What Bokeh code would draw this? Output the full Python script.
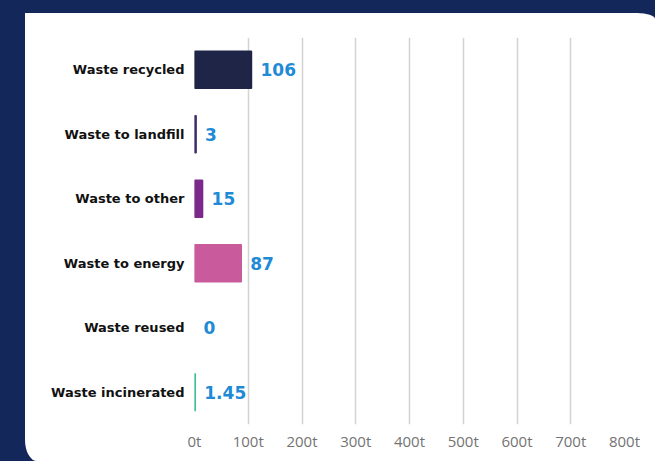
from bokeh.plotting import figure
from bokeh.models import ColumnDataSource, FactorRange, Range1d, FixedTicker, GlobalInlineStyleSheet
from bokeh.core.properties import value
from bokeh.embed import file_html
from bokeh.resources import INLINE

categories = ["Waste recycled", "Waste to landfill", "Waste to other",
              "Waste to energy", "Waste reused", "Waste incinerated"]
values = [106, 3, 15, 87, 0, 1.45]
value_labels = ["106", "3", "15", "87", "0", "1.45"]
bar_colors = ["#1f2547", "#3f2b68", "#7b2a8c", "#c95b9c", "#9b9b9b", "#3dbf94"]
x_ticks = [0, 100, 200, 300, 400, 500, 600, 700, 800]
tick_labels = ["0t", "100t", "200t", "300t", "400t", "500t", "600t", "700t", "800t"]

NAVY = "#13275a"
W, H = 630, 448   # the white card; placed 25px from the left, 13px from the top

source = ColumnDataSource(dict(
    cat=categories,
    val=values,
    lab=value_labels,
    color=bar_colors,
    lw=[1.5 if v > 0 else 0 for v in values],
))

p = figure(
    width=W, height=H,
    y_range=FactorRange(factors=list(reversed(categories)), range_padding=0),
    x_range=Range1d(0, 800),
    output_backend="svg", toolbar_location=None,
    min_border_left=169, min_border_right=31, min_border_top=24, min_border_bottom=37,
)
p.margin = (13, 0, 0, 25)
p.styles = {"border-radius": "0px 18px 0px 12px / 0px 6px 0px 21px",
            "overflow": "hidden", "background-color": "white"}
p.border_fill_color = None
p.background_fill_color = None
p.outline_line_color = None

p.hbar(y="cat", left=0, right="val", height=0.57, source=source,
       fill_color="color", line_color="color", line_width="lw")

p.text(x="val", y="cat", text="lab", source=source, x_offset=9,
       text_baseline="middle", text_align="left",
       text_font=value("DejaVu Sans"), text_font_style="bold",
       text_font_size="17px", text_color="#1f8ad6")

p.ygrid.grid_line_color = None
p.xgrid.ticker = FixedTicker(ticks=x_ticks)
p.xgrid.grid_line_color = "#d3d3d3"
p.xgrid.grid_line_width = 1.5

xa = p.xaxis[0]
xa.ticker = FixedTicker(ticks=x_ticks)
xa.major_label_overrides = {t: l for t, l in zip(x_ticks, tick_labels)}
xa.axis_line_color = None
xa.major_tick_line_color = None
xa.minor_tick_line_color = None
xa.major_tick_out = 0
xa.major_label_standoff = 6
xa.major_label_text_font = "Open Sans"
xa.major_label_text_font_size = "15px"
xa.major_label_text_color = "#737373"

ya = p.yaxis[0]
ya.axis_line_color = None
ya.major_tick_line_color = None
ya.minor_tick_line_color = None
ya.major_tick_out = 0
ya.major_label_standoff = 10
ya.major_label_text_font = "DejaVu Sans"
ya.major_label_text_font_style = "bold"
ya.major_label_text_font_size = "13px"
ya.major_label_text_color = "#111111"

p.stylesheets = [GlobalInlineStyleSheet(css="body { background-color: %s; }" % NAVY)]

open("out.html", "w").write(file_html(p, INLINE))
